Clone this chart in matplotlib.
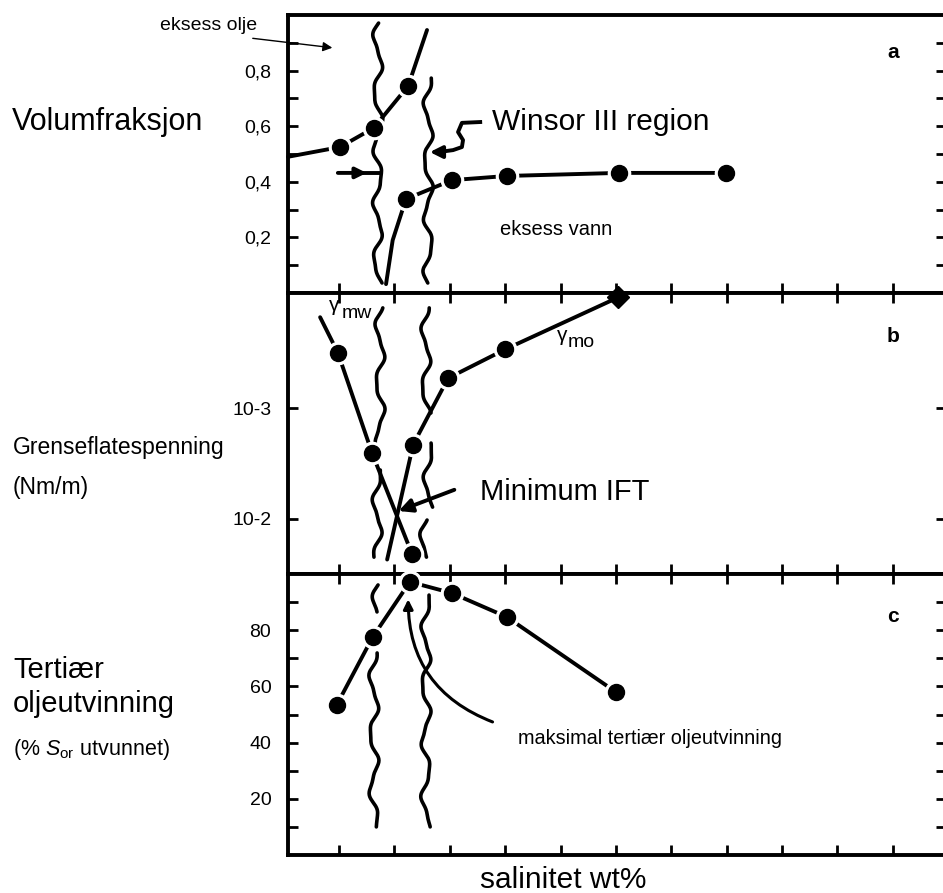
import numpy as np
import matplotlib
matplotlib.use("Agg")
import matplotlib.pyplot as plt
from matplotlib.ticker import NullLocator

plt.rcParams["font.family"] = ["Liberation Sans", "DejaVu Sans"]
plt.rcParams["mathtext.fontset"] = "custom"
plt.rcParams["mathtext.rm"] = "Liberation Sans"
plt.rcParams["mathtext.it"] = "Liberation Sans:italic"

W, H = 943, 893

# salinitet (vilkaarlige enheter), ett merke per enhet
X_TICKS = list(range(1, 12))

# a: volumfraksjon
oil_x = [0.08, 1.02, 1.63, 2.25, 2.59]
oil_y = [0.49, 0.525, 0.594, 0.745, 0.946]
oil_marks = [1, 2, 3]

water_x = [1.85, 1.97, 2.21, 3.04, 4.03, 6.05, 7.99]
water_y = [0.032, 0.19, 0.338, 0.406, 0.421, 0.432, 0.432]
water_marks = [2, 3, 4, 5, 6]

A_TICKS = [0.1, 0.2, 0.3, 0.4, 0.5, 0.6, 0.7, 0.8, 0.9]
A_LABELS = ["", "0,2", "", "0,4", "", "0,6", "", "0,8", ""]

# b: grenseflatespenning (N/m)
mw_x = [0.66, 0.98, 1.60, 2.32, 2.46]
mw_ift = [1.51e-4, 3.16e-4, 2.57e-3, 2.09e-2, 2.34e-2]
mw_marks = [1, 2, 3]

mo_x = [1.87, 2.34, 2.97, 4.00, 6.04]
mo_ift = [2.34e-2, 2.14e-3, 5.37e-4, 2.95e-4, 1.0e-4]
mo_marks = [1, 2, 3]
mo_diamond = 4

B_TICKS = [1e-3, 1e-2]
B_LABELS = ["10-3", "10-2"]

# c: tertiaer oljeutvinning (%)
rec_x = [0.96, 1.61, 2.28, 3.04, 4.03, 6.0]
rec_y = [53.4, 77.6, 97.2, 93.2, 84.7, 58.0]

C_TICKS = [10, 20, 30, 40, 50, 60, 70, 80, 90]
C_LABELS = ["", "20", "", "40", "", "60", "", "80", ""]

# grenser for Winsor III (x, y0, y1 i aksefraksjon, fase)
WAVES_A = [(1.70, 0.971, 0.036, 0.0), (2.61, 0.773, 0.036, 1.5)]
WAVES_B = [(1.74, 0.947, 0.466, 0.5), (1.69, 0.370, 0.06, 2.0),
           (2.57, 0.947, 0.573, 1.0), (2.61, 0.466, 0.238, 2.5),
           (2.55, 0.192, 0.06, 0.3)]
WAVES_C = [(1.69, 0.961, 0.865, 0.0), (1.63, 0.719, 0.10, 1.2),
           (2.57, 0.925, 0.10, 2.2)]

LW = 2.8


def fx(x):
    return x / W


def fy(y):
    return 1 - y / H


def trace(ax, x, y, marks):
    ax.plot(x, y, color="black", lw=LW, solid_capstyle="round", zorder=3, clip_on=False)
    mx = [x[i] for i in marks]
    my = [y[i] for i in marks]
    ax.plot(mx, my, "o", ms=16, color="white", zorder=4, clip_on=False)
    ax.plot(mx, my, "o", ms=11.5, color="black", zorder=5, clip_on=False)


def wavy(ax, x0, f0, f1, phase, amp=0.075, period=0.2):
    t = np.linspace(f0, f1, 200)
    u = 2 * np.pi * (t - f0) / period + phase
    xs = x0 + amp * (np.sin(u) + 0.25 * np.sin(2.3 * u + 1.0))
    ax.plot(xs, t, transform=ax.get_xaxis_transform(), color="black",
            lw=2.6, solid_capstyle="round", zorder=2)


def style(ax, top, bottom):
    ax.set_xlim(0.08, 11.96)
    ax.set_xticks(X_TICKS)
    ax.tick_params(axis="x", direction="in", length=7, width=2.0,
                   top=top, bottom=bottom, labelbottom=False, labeltop=False)
    ax.tick_params(axis="y", direction="in", length=7, width=2.0,
                   left=True, right=True, labelsize=14, pad=12)
    for s in ax.spines.values():
        s.set_linewidth(2.8)


fig = plt.figure(figsize=(W / 100, H / 100), dpi=100)
left = fx(288)
width = (946 - 288) / W
ax_a = fig.add_axes([left, fy(293), width, (293 - 15) / H])
ax_b = fig.add_axes([left, fy(574), width, (574 - 293) / H])
ax_c = fig.add_axes([left, fy(855), width, (855 - 574) / H])

# ---- a ----
style(ax_a, False, True)
ax_a.set_ylim(0, 1)
ax_a.set_yticks(A_TICKS)
ax_a.set_yticklabels(A_LABELS)
for w in WAVES_A:
    wavy(ax_a, *w)
trace(ax_a, oil_x, oil_y, oil_marks)
trace(ax_a, water_x, water_y, water_marks)

ax_a.plot([1.3, 1.74], [0.432, 0.432], color="black", lw=LW)
ax_a.annotate("", xy=(1.55, 0.432), xytext=(0.93, 0.432),
              arrowprops=dict(arrowstyle="-|>", lw=LW, color="black", mutation_scale=16))

curl_x = [3.55, 3.22, 3.15, 3.24, 3.22, 3.06, 2.80]
curl_y = [0.615, 0.612, 0.579, 0.550, 0.525, 0.514, 0.507]
ax_a.plot(curl_x, curl_y, color="black", lw=LW, solid_joinstyle="round")
ax_a.annotate("", xy=(2.59, 0.507), xytext=(2.85, 0.507),
              arrowprops=dict(arrowstyle="-|>", lw=LW, color="black", mutation_scale=18))

ax_a.annotate("", xy=(0.93, 0.881), xytext=(fx(250), fy(38)),
              textcoords="figure fraction",
              arrowprops=dict(arrowstyle="-|>", lw=1.0, color="black", mutation_scale=14))

fig.text(fx(209), fy(25), "eksess olje", fontsize=14, ha="center", va="center")
fig.text(fx(492), fy(130), "Winsor III region", fontsize=21.5, ha="left", va="baseline")
fig.text(fx(500), fy(235), "eksess vann", fontsize=14.5, ha="left", va="baseline")
fig.text(fx(893), fy(52), "a", fontsize=15, fontweight="bold", ha="center", va="center")

# ---- b ----
style(ax_b, True, True)
ax_b.set_yscale("log")
ax_b.set_ylim(10 ** -1.5, 10 ** -4.04)
ax_b.set_yticks(B_TICKS)
ax_b.set_yticklabels(B_LABELS)
ax_b.yaxis.set_minor_locator(NullLocator())
for w in WAVES_B:
    wavy(ax_b, *w)
trace(ax_b, mw_x, mw_ift, mw_marks)
trace(ax_b, mo_x, mo_ift, mo_marks)
ax_b.plot([mo_x[mo_diamond]], [mo_ift[mo_diamond]], "D", ms=11, color="black",
          zorder=6, clip_on=False)

ax_b.annotate("", xy=(2.03, 8.7e-3), xytext=(3.13, 5.37e-3),
              arrowprops=dict(arrowstyle="-|>", lw=LW, color="black", mutation_scale=20))

fig.text(fx(329), fy(311), "γ", fontsize=15, ha="left", va="baseline")
fig.text(fx(342), fy(318), "mw", fontsize=14, ha="left", va="baseline")
fig.text(fx(557), fy(341), "γ", fontsize=15, ha="left", va="baseline")
fig.text(fx(568), fy(347), "mo", fontsize=14, ha="left", va="baseline")
fig.text(fx(480), fy(500), "Minimum IFT", fontsize=21, ha="left", va="baseline")
fig.text(fx(893), fy(337), "b", fontsize=15, fontweight="bold", ha="center", va="center")

# ---- c ----
style(ax_c, True, True)
ax_c.set_ylim(0, 100)
ax_c.set_yticks(C_TICKS)
ax_c.set_yticklabels(C_LABELS)
for w in WAVES_C:
    wavy(ax_c, *w)
trace(ax_c, rec_x, rec_y, list(range(len(rec_x))))

ax_c.annotate("", xy=(2.25, 92.0), xytext=(3.82, 47.0),
              arrowprops=dict(arrowstyle="-|>", lw=2.2, color="black", mutation_scale=14,
                              connectionstyle="arc3,rad=-0.35", fill=False))

fig.text(fx(518), fy(744), "maksimal tertiær oljeutvinning", fontsize=14.3, ha="left", va="baseline")
fig.text(fx(893), fy(617), "c", fontsize=15, fontweight="bold", ha="center", va="center")

# venstre aksetekster
fig.text(fx(12), fy(130), "Volumfraksjon", fontsize=22, va="baseline")
fig.text(fx(13), fy(454), "Grenseflatespenning", fontsize=16.5, va="baseline")
fig.text(fx(13), fy(494), "(Nm/m)", fontsize=16.5, va="baseline")
fig.text(fx(13), fy(678), "Tertiær", fontsize=21, va="baseline")
fig.text(fx(13), fy(712), "oljeutvinning", fontsize=21, va="baseline")
fig.text(fx(13), fy(755), r"(% $S_{\mathrm{or}}$ utvunnet)", fontsize=15.5, va="baseline")
fig.text(fx(563), fy(888), "salinitet wt%", fontsize=21.5, ha="center", va="baseline")

fig.savefig("out.png", dpi=100)
